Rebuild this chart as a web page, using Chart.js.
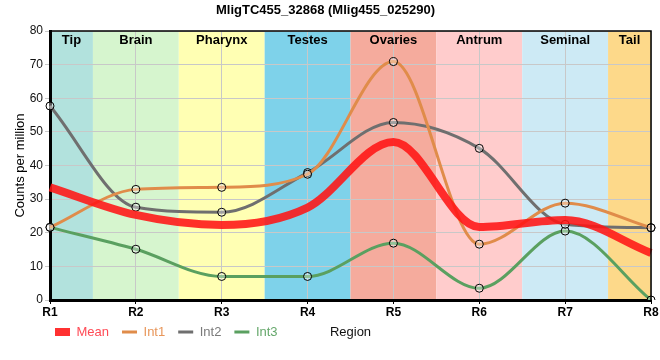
<!DOCTYPE html>
<html>
<head>
<meta charset="utf-8">
<script src="https://cdn.jsdelivr.net/npm/chart.js@4.4.0/dist/chart.umd.min.js"></script>
<style>
html,body{margin:0;padding:0;background:#fff;}
#wrap{width:660px;height:360px;position:relative;}
</style>
</head>
<body>
<div id="wrap"><canvas id="c" width="660" height="360"></canvas></div>
<script>
const categories = ['R1','R2','R3','R4','R5','R6','R7','R8'];
const regionNames = ['Tip','Brain','Pharynx','Testes','Ovaries','Antrum','Seminal','Tail'];
const regionColors = ['#b2e2dd','#d6f5ce','#ffffb3','#7ed2ea','#f5ab9d','#ffcccc','#cdeaf5','#fdd98a'];
const meanValues = [33.5, 25.3, 22.3, 27.5, 47.0, 21.7, 23.8, 14.0];
const int1Values = [21.6, 32.9, 33.5, 37.4, 70.9, 16.6, 28.8, 21.5];
const int2Values = [57.7, 27.6, 26.1, 37.9, 52.8, 45.1, 22.5, 21.5];
const int3Values = [21.6, 15.1, 7.0, 7.0, 16.9, 3.5, 20.5, 0.0];
const yTicks = [0,10,20,30,40,50,60,70,80];

const seriesColors = ['rgba(255,20,20,0.88)','#e08c4a','#6f6f6f','#5aa060'];
const legendTextColors = ['#ff4a55','#e8965a','#7a7a7a','#66a86c'];

const bandsPlugin = {
  id: 'bands',
  beforeDraw(chart) {
    const {ctx, chartArea: a, scales: {x}} = chart;
    ctx.save();
    regionColors.forEach((col, i) => {
      let l = Math.max(a.left, x.getPixelForValue(i - 0.5));
      let r = Math.min(a.right, x.getPixelForValue(i + 0.5));
      ctx.fillStyle = col;
      ctx.fillRect(l, a.top, r - l, a.bottom - a.top);
    });
    ctx.restore();
  },
  beforeDatasetsDraw(chart) {
    const {ctx, chartArea: a, scales: {x}} = chart;
    ctx.save();
    ctx.font = 'bold 13px "Liberation Sans", Arial, sans-serif';
    ctx.fillStyle = '#000';
    ctx.textAlign = 'center';
    ctx.textBaseline = 'alphabetic';
    regionNames.forEach((name, i) => {
      let l = Math.max(a.left, x.getPixelForValue(i - 0.5));
      let r = Math.min(a.right, x.getPixelForValue(i + 0.5));
      ctx.fillText(name, (l + r) / 2, a.top + 13);
    });
    ctx.restore();
  },
  afterDraw(chart) {
    const {ctx, chartArea: a, legend} = chart;
    ctx.save();
    ctx.strokeStyle = '#000';
    ctx.lineWidth = 1.5;
    ctx.beginPath();
    ctx.moveTo(a.left, a.top);
    ctx.lineTo(a.right, a.top);
    ctx.lineTo(a.right, a.bottom);
    ctx.stroke();
    ctx.font = '13px "Liberation Sans", Arial, sans-serif';
    ctx.fillStyle = '#111';
    ctx.textAlign = 'center';
    ctx.textBaseline = 'middle';
    const ly = legend.top + legend.options.labels.padding + 6.5;
    ctx.fillText('Region', (a.left + a.right) / 2, ly);
    ctx.restore();
  }
};

const shiftLegend = {
  id: 'shiftLegend',
  afterLayout(chart) {
    const lg = chart.legend;
    if (lg) { lg.left += 42; lg.right += 42; lg.top -= 7.5; lg.bottom -= 7.5; }
  }
};

function mk(label, data, i, extra) {
  return Object.assign({
    label, data,
    borderColor: seriesColors[i],
    backgroundColor: seriesColors[i],
    borderWidth: 3,
    cubicInterpolationMode: 'monotone',
    pointRadius: 4,
    pointBorderWidth: 1,
    pointBorderColor: '#000',
    pointBackgroundColor: 'rgba(255,255,255,0.35)',
    fill: false
  }, extra || {});
}

new Chart(document.getElementById('c'), {
  type: 'line',
  data: {
    labels: categories,
    datasets: [
      mk('Mean', meanValues, 0, {borderWidth: 8, pointRadius: 0, pointHoverRadius: 0}),
      mk('Int1', int1Values, 1),
      mk('Int2', int2Values, 2),
      mk('Int3', int3Values, 3)
    ]
  },
  options: {
    responsive: false,
    animation: false,
    devicePixelRatio: 1,
    layout: {padding: {left: 0, right: 9, top: 0, bottom: 4}},
    plugins: {
      tooltip: {enabled: false},
      title: {
        display: true,
        text: 'MligTC455_32868 (Mlig455_025290)',
        color: '#000',
        font: {family: '"Liberation Sans", Arial, sans-serif', size: 13, weight: 'bold'},
        padding: {top: 2.5, bottom: 12.9}
      },
      legend: {
        display: true,
        position: 'bottom',
        align: 'start',
        labels: {
          usePointStyle: true,
          pointStyleWidth: 15,
          boxHeight: 8,
          padding: 13,
          font: {family: '"Liberation Sans", Arial, sans-serif', size: 13},
          generateLabels(chart) {
            return chart.data.datasets.map((ds, i) => ({
              text: ds.label,
              fillStyle: seriesColors[i],
              strokeStyle: seriesColors[i],
              lineWidth: i === 0 ? 0 : 3,
              pointStyle: i === 0 ? 'rect' : 'line',
              fontColor: legendTextColors[i],
              datasetIndex: i,
              hidden: !chart.isDatasetVisible(i)
            }));
          }
        }
      }
    },
    scales: {
      x: {
        type: 'category',
        afterFit(s) { s.height = 20; },
        grid: {color: '#c8c8c8', lineWidth: 1, tickLength: 4, tickColor: '#000'},
        border: {color: '#000', width: 3},
        ticks: {
          color: '#000', padding: 1, maxRotation: 0,
          font: {family: '"Liberation Sans", Arial, sans-serif', size: 12, weight: 'bold'}
        }
      },
      y: {
        min: 0, max: 80,
        afterFit(s) { s.width = 50; },
        afterBuildTicks(s) { s.ticks = yTicks.map(v => ({value: v})); },
        grid: {color: '#c8c8c8', lineWidth: 1, tickLength: 5},
        border: {color: '#000', width: 3},
        ticks: {
          color: '#111', padding: 2,
          font: {family: '"Liberation Sans", Arial, sans-serif', size: 12}
        },
        title: {
          display: true,
          text: 'Counts per million',
          color: '#000',
          font: {family: '"Liberation Sans", Arial, sans-serif', size: 13},
          padding: {top: 12.5, bottom: 0}
        }
      }
    }
  },
  plugins: [bandsPlugin, shiftLegend]
});
</script>
</body>
</html>
